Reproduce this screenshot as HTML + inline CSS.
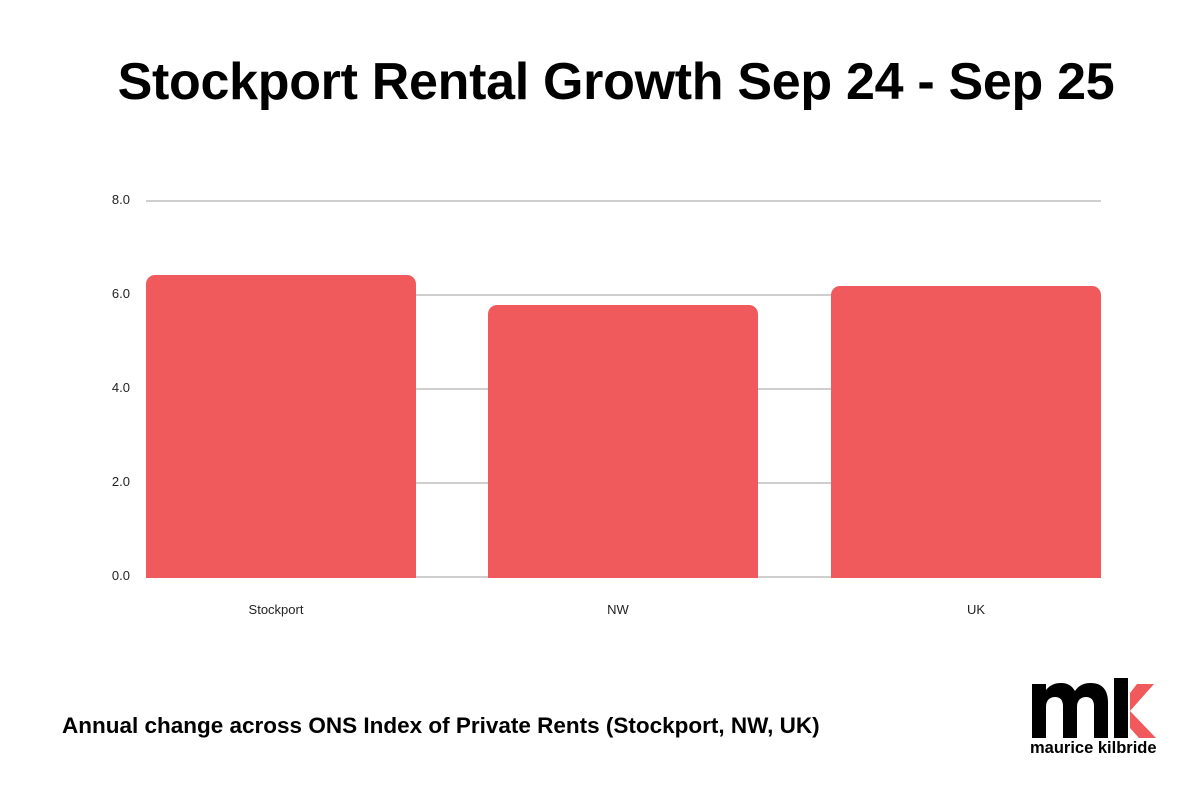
<!DOCTYPE html>
<html><head><style>
body{margin:0;width:1200px;height:800px;background:#fff;font-family:"Liberation Sans",sans-serif;position:relative;overflow:hidden}
.t{position:absolute;left:0;width:1232px;top:52px;text-align:center;font-size:52px;font-weight:bold;color:#000;letter-spacing:-0.3px}
.g{position:absolute;left:146px;width:955px;height:2px;background:#cfcfcf}
.y{position:absolute;left:100px;width:30px;text-align:right;font-size:13px;color:#222}
.b{position:absolute;background:#f05a5c;border-radius:9px 9px 0 0;width:270px}
.x{position:absolute;top:602px;width:270px;text-align:center;font-size:13px;color:#222}
.s{position:absolute;left:62px;top:713px;font-size:22.5px;font-weight:bold;color:#000}
</style></head><body>
<div class="t">Stockport Rental Growth Sep 24 - Sep 25</div>
<div class="g" style="top:200px"></div><div class="g" style="top:294px"></div><div class="g" style="top:388px"></div><div class="g" style="top:482px"></div><div class="g" style="top:576px"></div>
<div class="y" style="top:192px">8.0</div><div class="y" style="top:286px">6.0</div><div class="y" style="top:380px">4.0</div><div class="y" style="top:474px">2.0</div><div class="y" style="top:568px">0.0</div>
<div class="b" style="left:146px;top:275px;height:303px"></div>
<div class="b" style="left:488px;top:305px;height:273px"></div>
<div class="b" style="left:831px;top:286px;height:292px"></div>
<div class="x" style="left:141px">Stockport</div><div class="x" style="left:483px">NW</div><div class="x" style="left:841px">UK</div>
<div class="s">Annual change across ONS Index of Private Rents (Stockport, NW, UK)</div>
<svg style="position:absolute;left:1030px;top:678px" width="130" height="62" viewBox="0 0 130 62">
<path d="M2 60V6h14v6c4-5 9-7 15-7 7 0 11 3 14 8 4-6 9-8 16-8 11 0 17 7 17 19v36H64V28c0-6-3-9-8-9s-9 3-9 10v31H33V28c0-6-3-9-8-9s-9 3-9 10v31z" fill="#000"/>
<rect x="84" y="0" width="14" height="60" fill="#000"/>
<path d="M100 33L124 6h-17l-7 9z" fill="#f05a5c"/>
<path d="M100 33L126 60h-17l-9-10z" fill="#f05a5c"/>
</svg>
<div style="position:absolute;left:1030px;top:739px;font-size:16.5px;font-weight:bold;color:#000">maurice kilbride</div>
</body></html>
